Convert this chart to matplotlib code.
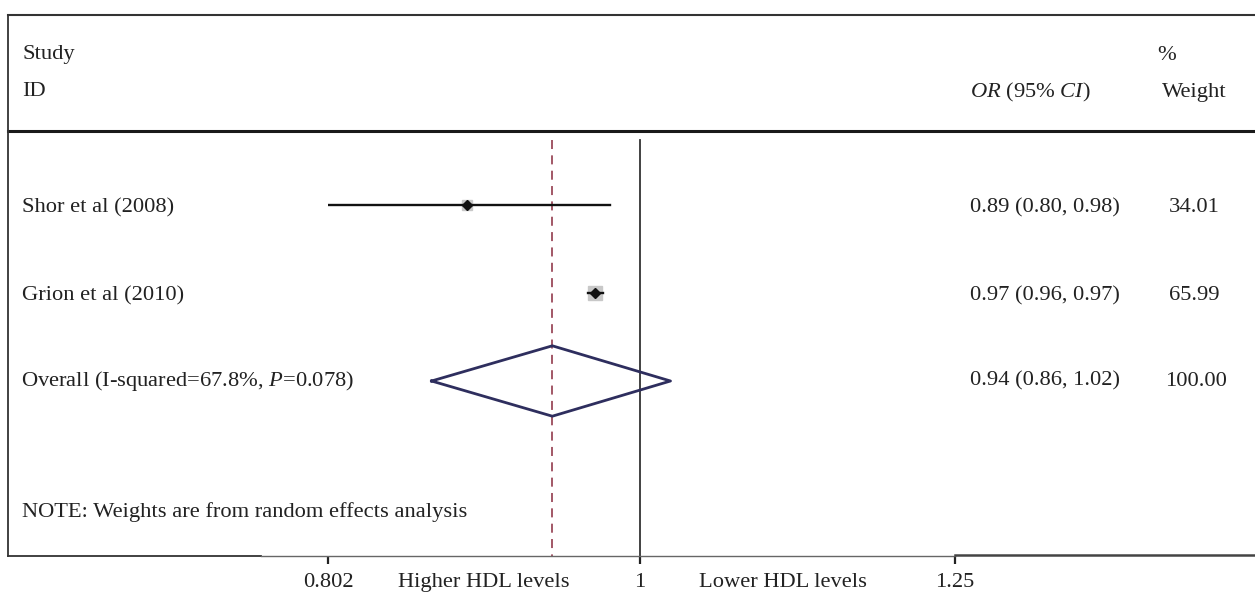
import matplotlib
matplotlib.use("Agg")
import matplotlib.pyplot as plt
import matplotlib.transforms as mtrans
import numpy as np

plt.rcParams['font.family'] = ['Liberation Serif', 'DejaVu Serif']
plt.rcParams['mathtext.fontset'] = 'custom'
plt.rcParams['mathtext.rm'] = 'Liberation Serif'
plt.rcParams['mathtext.it'] = 'Liberation Serif:italic'

# data
studies = ["Shor et al (2008)", "Grion et al (2010)"]
or_est = [0.885, 0.969]
ci_low = [0.802, 0.964]
ci_high = [0.979, 0.974]
weights = [34.01, 65.99]
or_labels = ["0.89 (0.80, 0.98)", "0.97 (0.96, 0.97)"]
weight_labels = ["34.01", "65.99"]

overall_est = 0.940
overall_low = 0.863
overall_high = 1.022
overall_text = "Overall (I-squared=67.8%, $P$=0.078)"
overall_label = "0.94 (0.86, 1.02)"
overall_weight = "100.00"

tick_vals = [0.802, 1, 1.25]
tick_labels = ["0.802", "1", "1.25"]
side_labels = ["Higher HDL levels", "Lower HDL levels"]

W, H = 1255, 592
fig = plt.figure(figsize=(W / 100, H / 100), dpi=100)
ax = fig.add_axes([328 / W, (H - 556) / H, (955 - 328) / W, (556 - 14) / H])

def row(px):
    return (px - 205) / 88 + 1

ax.set_xscale('log')
ax.set_xlim(tick_vals[0], tick_vals[-1])
ax.set_ylim(row(556), row(14))
ax.minorticks_off()
for s in ax.spines.values():
    s.set_visible(False)
ax.set_yticks([])

fs = 16.2
tc = '#222222'

# x axis ticks, with the side captions between them
mids = [np.sqrt(tick_vals[0] * tick_vals[1]), np.sqrt(tick_vals[1] * tick_vals[2]) * 0.99]
ax.set_xticks([tick_vals[0], mids[0], tick_vals[1], mids[1], tick_vals[2]])
ax.set_xticklabels([tick_labels[0], side_labels[0], tick_labels[1], side_labels[1], tick_labels[2]],
                   fontsize=fs, color=tc)
ax.tick_params(axis='x', length=6, width=1.6, color='#222222', pad=6, direction='out')
ticks = ax.xaxis.get_major_ticks()
for i in (1, 3):
    ticks[i].tick1line.set_visible(False)

y_rows = [1, 2]
top_v = row(140)
bot_v = row(556)

# reference lines
ax.plot([1, 1], [top_v, bot_v], color='#333333', lw=1.3)
ax.plot([overall_est, overall_est], [top_v, bot_v], color='#9b4a5a', lw=1.3,
        ls=(0, (5, 3.5)))

# study estimates
for y, e, lo, hi, w in zip(y_rows, or_est, ci_low, ci_high, weights):
    ax.plot(e, y, marker='s', ms=1.235 * np.sqrt(w), color='#c8c8c8', mec='#c8c8c8', zorder=2)
    ax.plot([lo, hi], [y, y], color='#111111', lw=1.7, zorder=3)
    ax.plot(e, y, marker='D', ms=5, color='#111111', zorder=4)

# overall diamond
dh = 0.40
ax.plot([overall_low, overall_est, overall_high, overall_est, overall_low],
        [3, 3 - dh, 3, 3 + dh, 3], color='#2e2e5e', lw=2, zorder=5)

# text columns
tf = mtrans.blended_transform_factory(fig.transFigure, ax.transData)
x_left = 22 / W
x_or = 970 / W
x_w = 1194 / W
fig.text(x_left, row(55), "Study", transform=tf, va='center', fontsize=fs, color=tc)
fig.text(x_left, row(92), "ID", transform=tf, va='center', fontsize=fs, color=tc)
fig.text(x_or, row(92), r"$\mathit{OR}$ (95% $\mathit{CI}$)", transform=tf, va='center',
         fontsize=fs, color=tc)
fig.text(1157 / W, row(55), "%", transform=tf, va='center', fontsize=fs, color=tc)
fig.text(x_w, row(92), "Weight", transform=tf, va='center', ha='center', fontsize=fs, color=tc)

for y, name, lab, wl in zip(y_rows, studies, or_labels, weight_labels):
    fig.text(x_left, y + 0.03, name, transform=tf, va='center', fontsize=fs, color=tc)
    fig.text(x_or, y + 0.03, lab, transform=tf, va='center', fontsize=fs, color=tc)
    fig.text(x_w, y + 0.03, wl, transform=tf, va='center', ha='center', fontsize=fs, color=tc)

fig.text(x_left - 1 / W, 3, overall_text, transform=tf, va='center', fontsize=fs, color=tc)
fig.text(x_or, 3, overall_label, transform=tf, va='center', fontsize=fs, color=tc)
fig.text(1196 / W, 3, overall_weight, transform=tf, va='center', ha='center', fontsize=fs, color=tc)
fig.text(x_left, row(512), "NOTE: Weights are from random effects analysis", transform=tf,
         va='center', fontsize=fs, color=tc)

# frame lines
top_y = row(14) + 0.01
fig.add_artist(plt.Line2D([8 / W, 1], [top_y, top_y], transform=tf, color='#333333', lw=1.5))
fig.add_artist(plt.Line2D([8 / W, 1], [row(131), row(131)], transform=tf, color='#1a1a1a', lw=2.2))
fig.add_artist(plt.Line2D([8 / W, 8 / W], [top_y, bot_v], transform=tf, color='#333333', lw=1.3))
fig.add_artist(plt.Line2D([8 / W, 261 / W], [bot_v, bot_v], transform=tf, color='#333333', lw=1.3))
fig.add_artist(plt.Line2D([261 / W, 955 / W], [bot_v, bot_v], transform=tf, color='#666666', lw=1.0))
fig.add_artist(plt.Line2D([955 / W, 1], [bot_v - 0.01, bot_v - 0.01], transform=tf, color='#444444', lw=1.8))

fig.savefig("out.png", dpi=100)
